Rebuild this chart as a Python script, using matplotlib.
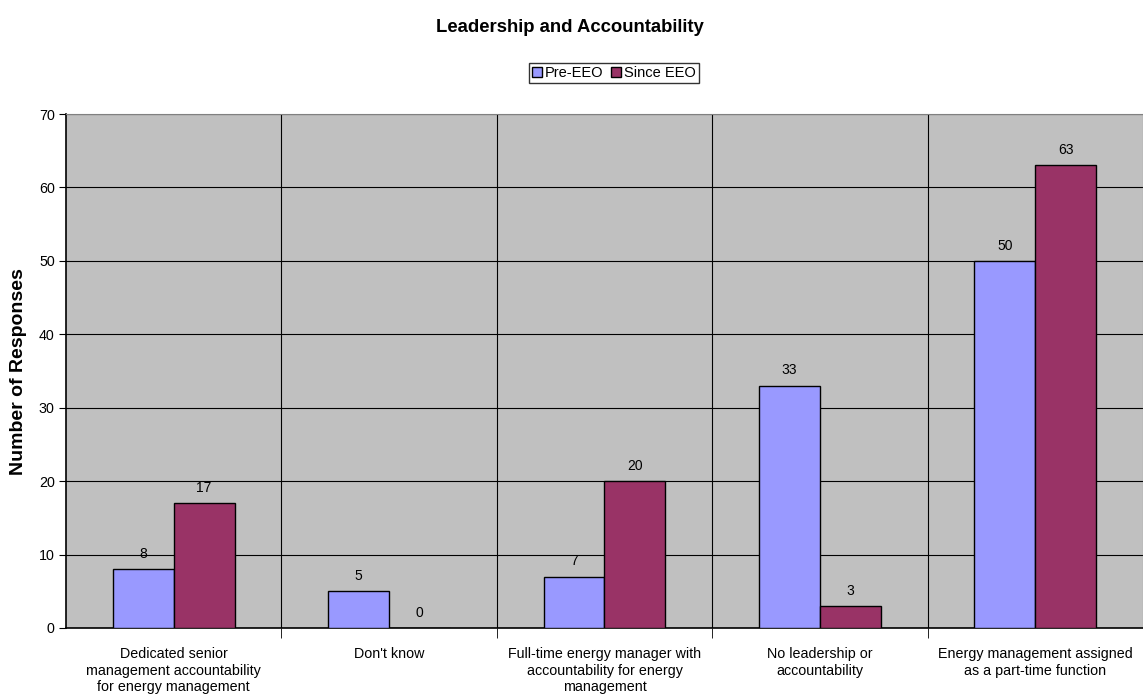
import matplotlib
import matplotlib.pyplot as plt
import numpy as np

matplotlib.use("Agg")
plt.rcParams["font.family"] = ["Liberation Sans", "DejaVu Sans"]

categories = [
    "Dedicated senior\nmanagement accountability\nfor energy management",
    "Don't know",
    "Full-time energy manager with\naccountability for energy\nmanagement",
    "No leadership or\naccountability",
    "Energy management assigned\nas a part-time function",
]
pre_eeo = [8, 5, 7, 33, 50]
since_eeo = [17, 0, 20, 3, 63]
series_names = ["Pre-EEO", "Since EEO"]
colors = ["#9999FF", "#993366"]

fig = plt.figure(figsize=(11.43, 6.99), dpi=100)
ax = fig.add_axes([0.0577, 0.1016, 0.9423, 0.7353])
ax.set_facecolor("#C0C0C0")

x = np.arange(len(categories))
w = 0.283
for i, (vals, name) in enumerate(zip([pre_eeo, since_eeo], series_names)):
    ax.bar(x + (i - 0.5) * w, vals, w, color=colors[i], edgecolor="black",
           linewidth=1, label=name, zorder=3)
    for xi, v in zip(x + (i - 0.5) * w, vals):
        ax.annotate(str(v), (xi, v), xytext=(0, 6), textcoords="offset points",
                    ha="center", va="bottom", fontsize=10)

ax.set_xlim(-0.5, len(categories) - 0.5)
ax.set_ylim(0, 70)
ax.set_yticks(range(0, 71, 10))
ax.yaxis.grid(True, color="black", linewidth=0.8, zorder=1)
ax.set_xticks(x)
ax.set_xticklabels(categories, fontsize=10.3)
ax.tick_params(axis="x", length=0, pad=14)
# category separators
ax.set_xticks(x[:-1] + 0.5, minor=True)
ax.tick_params(axis="x", which="minor", length=7, color="black")
ax.xaxis.grid(True, which="minor", color="black", linewidth=0.8, zorder=1)
ax.tick_params(axis="y", length=5, labelsize=10.3, pad=3)
ax.set_axisbelow(True)

for s in ["top", "right"]:
    ax.spines[s].set_color("#808080")
for s in ["left", "bottom"]:
    ax.spines[s].set_color("black")
    ax.spines[s].set_linewidth(1.2)

fig.text(0.016, 0.469, "Number of Responses", rotation=90, ha="center",
         va="center", fontsize=14, fontweight="bold")
fig.text(0.499, 0.96, "Leadership and Accountability", ha="center", va="center",
         fontsize=13.3, fontweight="bold")
fig.legend(loc="center", bbox_to_anchor=(0.537, 0.895), ncol=2, fontsize=10.5,
           frameon=True, fancybox=False, edgecolor="black", handlelength=0.7,
           handleheight=0.7, handletextpad=0.2, columnspacing=0.5,
           borderpad=0.2, borderaxespad=0)

fig.savefig("out.png", dpi=100)
